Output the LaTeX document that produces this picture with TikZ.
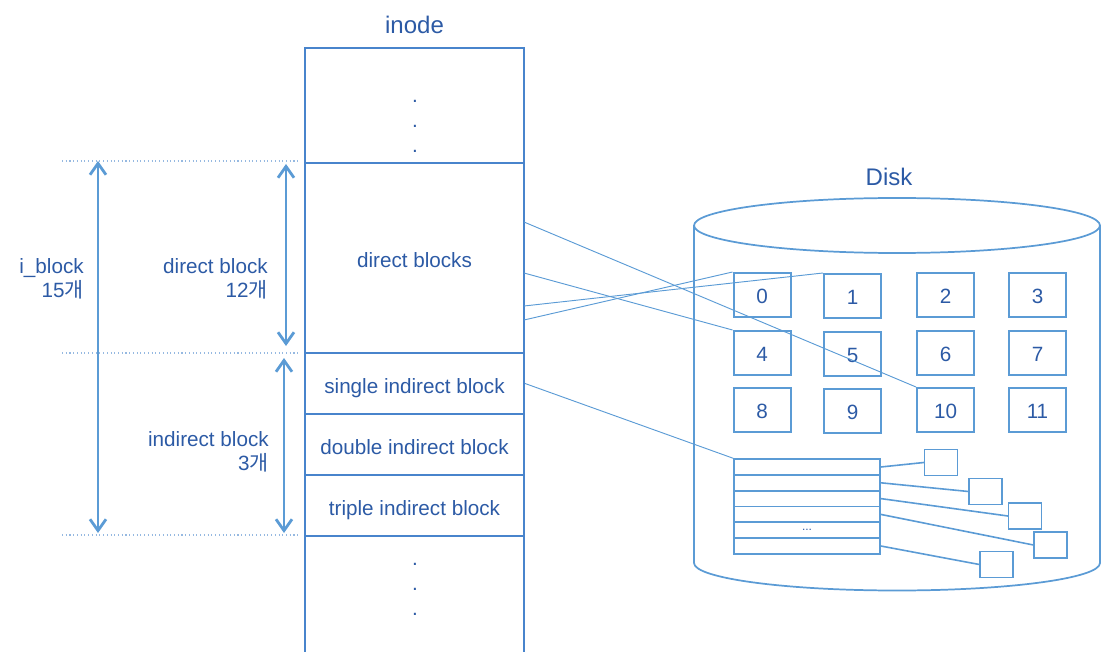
\documentclass[tikz,border=0pt]{standalone}
\usepackage{fontspec}
\setmainfont{Liberation Sans}
\newfontfamily\kr{Noto Sans CJK KR}
\usetikzlibrary{arrows.meta}
\definecolor{txt}{RGB}{44,90,165}
\definecolor{bl}{RGB}{91,155,213}
\definecolor{ib}{RGB}{72,132,204}
\definecolor{dl}{RGB}{150,185,225}
\begin{document}
\begin{tikzpicture}[x=0.75pt,y=-0.75pt,
  body/.style={font=\fontsize{15.5}{18}\selectfont},
  cell/.style={draw=ib, line width=1.6pt, inner sep=0pt, minimum width=164.25pt, text=txt, body, text height=15pt, text depth=0pt},
  dbox/.style={draw=bl, line width=1.5pt, inner sep=0pt, minimum width=42.75pt, minimum height=33pt, text=txt, body, text height=13pt, text depth=0pt},
  irow/.style={draw=bl, line width=1.2pt, inner sep=0pt, minimum width=109.5pt, minimum height=11.875pt, text=txt, font=\fontsize{9}{9}\selectfont},
  sbox/.style={draw=bl, line width=1.2pt, inner sep=0pt, minimum width=24.5pt, minimum height=19.5pt},
  thinlink/.style={draw=bl, line width=0.7pt},
  link/.style={draw=bl, line width=1.2pt},
  dimarrow/.style={draw=bl, line width=2.1pt, {Straight Barb[length=8.5pt,width=12pt]}-{Straight Barb[length=8.5pt,width=12pt]}},
  guide/.style={draw=dl, line width=0.8pt, dotted},
  lbl/.style={text=txt, body, align=right, anchor=east, inner sep=0pt},
  title/.style={text=txt, font=\fontsize{18}{20}\selectfont, inner sep=0pt},
  dotn/.style={text=txt, body, anchor=base, inner sep=0pt},
  cyl/.style={draw=bl, line width=1.3pt}
]
\useasboundingbox (0,0) rectangle (1103,652);

% inode
\node[title] (inode) at (414.5,25) {inode};
\node[cell, minimum height=86.25pt] (c0) at (414.5,105.5) {};
\node[cell, minimum height=142.5pt] (c1) at (414.5,258) {direct blocks};
\node[cell, minimum height=45.75pt] (c2) at (414.5,383.5) {single indirect block};
\node[cell, minimum height=45.75pt] (c3) at (414.5,444.5) {double indirect block};
\node[cell, minimum height=45.75pt] (c4) at (414.5,505.5) {triple indirect block};
\node[cell, minimum height=93pt] (c5) at (414.5,598) {};
\node[dotn] (d1) at (415,103) {.};
\node[dotn] (d2) at (415,128) {.};
\node[dotn] (d3) at (415,153) {.};
\node[dotn] (d4) at (415,565.5) {.};
\node[dotn] (d5) at (415,590.5) {.};
\node[dotn] (d6) at (415,615.5) {.};

% left guides and arrows
\coordinate (g1a) at (62,161); \coordinate (g1b) at (300,161);
\coordinate (g2a) at (62,353); \coordinate (g2b) at (300,353);
\coordinate (g3a) at (62,535); \coordinate (g3b) at (300,535);
\draw[guide] (g1a) -- (g1b);
\draw[guide] (g2a) -- (g2b);
\draw[guide] (g3a) -- (g3b);
\coordinate (a1t) at (98,161); \coordinate (a1b) at (98,533);
\coordinate (a2t) at (286,164); \coordinate (a2b) at (286,346);
\coordinate (a3t) at (284,358); \coordinate (a3b) at (284,533);
\draw[dimarrow] (a1t) -- (a1b);
\draw[dimarrow] (a2t) -- (a2b);
\draw[dimarrow] (a3t) -- (a3b);
\node[lbl] (l1) at (84,279) {i\_block\\15{\kr 개}};
\node[lbl] (l2) at (268,279) {direct block\\12{\kr 개}};
\node[lbl] (l3) at (269,452) {indirect block\\3{\kr 개}};

% disk cylinder
\node[title] (disk) at (889,177) {Disk};
\draw[cyl] (897,225.5) ellipse [x radius=152.25pt, y radius=20.625pt];
\draw[cyl] (694,225.5) -- (694,563) arc [start angle=180, end angle=360, x radius=152.25pt, y radius=20.625pt] -- (1100,225.5);

% disk blocks
\node[dbox] (b0) at (762,295) {0};
\node[dbox] (b1) at (852.5,296) {1};
\node[dbox] (b2) at (945.5,295) {2};
\node[dbox] (b3) at (1037.5,295) {3};
\node[dbox] (b4) at (762,353) {4};
\node[dbox] (b5) at (852.5,354) {5};
\node[dbox] (b6) at (945.5,353) {6};
\node[dbox] (b7) at (1037.5,353) {7};
\node[dbox] (b8) at (762,410) {8};
\node[dbox] (b9) at (852.5,411) {9};
\node[dbox] (b10) at (945.5,410) {10};
\node[dbox] (b11) at (1037.5,410) {11};

% index block
\node[irow] (r1) at (807,467) {};
\node[irow] (r2) at (807,482.8) {};
\node[irow] (r3) at (807,498.6) {};
\node[irow] (r4) at (807,514.4) {};
\node[irow] (r5) at (807,530.2) {...};
\node[irow] (r6) at (807,546) {};
\node[sbox] (s1) at (941,462.5) {};
\node[sbox] (s2) at (985.5,491.5) {};
\node[sbox] (s3) at (1025,516) {};
\node[sbox] (s4) at (1050.5,545) {};
\node[sbox] (s5) at (996.5,564.5) {};
\draw[link] (r1.east) -- (s1.west);
\draw[link] (r2.east) -- (s2.west);
\draw[link] (r3.east) -- (s3.west);
\draw[link] (r4.east) -- (s4.west);
\draw[link] (r6.east) -- (s5.west);

% inode to disk
\coordinate (p1) at (524,222);
\coordinate (p2) at (524,273);
\coordinate (p3) at (524,306);
\coordinate (p4) at (524,320);
\draw[thinlink] (p1) -- (b10.north west);
\draw[thinlink] (p2) -- (b4.north west);
\draw[thinlink] (p3) -- (b1.north west);
\draw[thinlink] (p4) -- (b0.north west);
\draw[thinlink] (c2.east) -- (r1.north west);
\end{tikzpicture}
\end{document}
